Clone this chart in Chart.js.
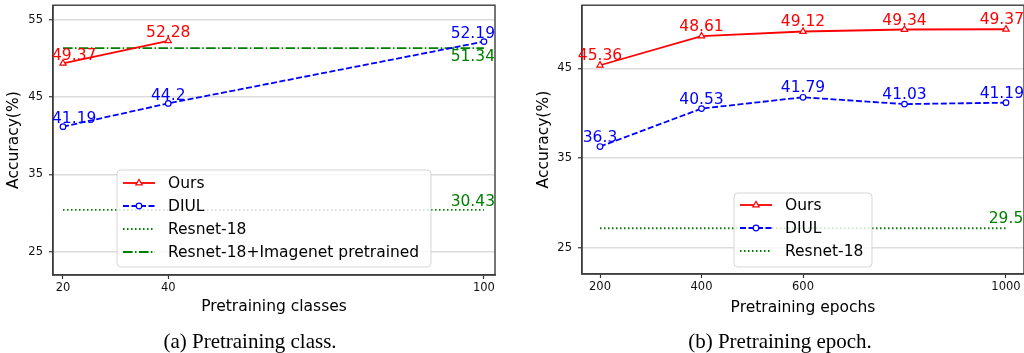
<!DOCTYPE html>
<html><head><meta charset="utf-8">
<script src="https://cdn.jsdelivr.net/npm/chart.js@4/dist/chart.umd.min.js"></script>
<style>
html,body{margin:0;padding:0;width:1024px;height:353px;overflow:hidden;background:#fff;position:relative;}
#c1{position:absolute;left:0;top:0;}
#c2{position:absolute;left:512px;top:0;}
.cap{position:absolute;top:331px;font-family:"Liberation Serif","Times New Roman",serif;font-size:21px;line-height:1;color:#000;white-space:nowrap;transform:translateX(-50%);}
</style></head><body>
<canvas id="c1" width="512" height="330"></canvas>
<canvas id="c2" width="540" height="330"></canvas>
<div class="cap" style="left:250px">(a) Pretraining class.</div>
<div class="cap" style="left:780px">(b) Pretraining epoch.</div>
<script>
// ---- data: chart (a) ----
const xTicksA = [20, 40, 100];
const yTicksA = [25, 35, 45, 55];
const classesOurs = [20, 40];
const oursA = [49.37, 52.28];
const classesDiul = [20, 40, 100];
const diulA = [41.19, 44.2, 52.19];
const baselineSpanA = [20, 100];
const resnetA = [30.43, 30.43];
const resnetLabelsA = [null, '30.43'];
const imagenetA = [51.34, 51.34];
const imagenetLabelsA = [null, '51.34'];

// ---- data: chart (b) ----
const epochs = [200, 400, 600, 800, 1000];
const xTicksB = [200, 400, 600, 1000];
const yTicksB = [25, 35, 45];
const oursB = [45.36, 48.61, 49.12, 49.34, 49.37];
const diulB = [36.3, 40.53, 41.79, 41.03, 41.19];
const baselineSpanB = [200, 1000];
const resnetB = [27.2, 27.2];          // level where the line is drawn in the figure
const resnetLabelsB = [null, '29.5'];  // annotation text in the figure

const FONT = '"DejaVu Sans", sans-serif';
const pts = (xs, ys) => xs.map((x, i) => ({x: x, y: ys[i]}));
const fmt = v => v.map(String);

const framePlugin = {
  id: 'frame',
  afterDatasetsDraw(chart) {
    const a = chart.chartArea, ctx = chart.ctx;
    ctx.save();
    ctx.strokeStyle = '#3c3c3c'; ctx.lineWidth = 1.4;
    ctx.strokeRect(a.left, a.top, a.right - a.left, a.bottom - a.top);
    ctx.restore();
  }
};

const labelPlugin = {
  id: 'vlabels',
  afterDatasetsDraw(chart, args, opts) {
    const ctx = chart.ctx, a = chart.chartArea;
    ctx.save();
    ctx.font = '15.5px ' + FONT;
    ctx.textAlign = 'center'; ctx.textBaseline = 'alphabetic';
    chart.data.datasets.forEach((ds, i) => {
      if (!ds.valueLabels) return;
      const meta = chart.getDatasetMeta(i);
      ds.valueLabels.forEach((t, j) => {
        if (t == null) return;
        const el = meta.data[j];
        const w = ctx.measureText(t).width;
        let x = el.x;
        if (opts.clampLeft && x - w / 2 < a.left - 1) x = a.left - 1 + w / 2;
        if (x + w / 2 > a.right) x = a.right - w / 2;
        ctx.fillStyle = ds.borderColor;
        const y = ds.labelBelow ? el.y + 12.5 : el.y - opts.above;
        ctx.fillText(t, x, y);
      });
    });
    ctx.restore();
  }
};

const boxLegend = {
  id: 'boxLegend',
  afterDraw(chart, args, o) {
    const ctx = chart.ctx;
    ctx.save();
    const [x1, y1, x2, y2] = o.box;
    ctx.beginPath();
    ctx.roundRect(x1, y1, x2 - x1, y2 - y1, 4);
    ctx.fillStyle = 'rgba(255,255,255,0.8)';
    ctx.fill();
    ctx.strokeStyle = 'rgba(204,204,204,0.8)'; ctx.lineWidth = 1;
    ctx.stroke();
    chart.data.datasets.forEach((ds, i) => {
      const y = o.rows[i];
      ctx.strokeStyle = ds.borderColor; ctx.lineWidth = ds.borderWidth;
      ctx.setLineDash(ds.borderDash || []);
      ctx.beginPath(); ctx.moveTo(o.sample[0], y); ctx.lineTo(o.sample[1], y); ctx.stroke();
      ctx.setLineDash([]);
      if (ds.pointRadius > 0) {
        ctx.fillStyle = '#fff'; ctx.lineWidth = 1.2;
        Chart.helpers.drawPoint(ctx, {pointStyle: ds.pointStyle, radius: ds.pointRadius, borderWidth: 1.2, rotation: 0}, (o.sample[0] + o.sample[1]) / 2, y);
      }
      ctx.fillStyle = '#000'; ctx.font = '15.5px ' + FONT;
      ctx.textAlign = 'left'; ctx.textBaseline = 'middle';
      ctx.fillText(ds.label, o.textX, y + 1);
    });
    ctx.restore();
  }
};

function lineDs(label, data, color, dash, style, radius, labels, below) {
  return {
    label: label, data: data, borderColor: color, backgroundColor: color,
    borderWidth: 1.8, borderDash: dash, pointStyle: style, pointRadius: radius,
    pointBackgroundColor: '#fff', pointBorderColor: color, pointBorderWidth: 1.2,
    tension: 0, fill: false, valueLabels: labels, labelBelow: below
  };
}

function makeChart(id, cfg) {
  return new Chart(document.getElementById(id), {
    type: 'line',
    data: {datasets: cfg.datasets},
    plugins: [framePlugin, labelPlugin, boxLegend],
    options: {
      responsive: false, animation: false, events: [],
      layout: {padding: {top: cfg.top, right: cfg.right, left: 0, bottom: 0}},
      plugins: {
        legend: {display: false}, tooltip: {enabled: false},
        vlabels: {above: cfg.above, clampLeft: cfg.clampLeft},
        boxLegend: cfg.legend
      },
      scales: {
        x: {
          type: 'linear', min: cfg.xMin, max: cfg.xMax,
          afterBuildTicks: s => { s.ticks = cfg.xTicks.map(v => ({value: v})); },
          afterFit: s => { s.height = cfg.xH; s.paddingLeft = 0; s.paddingRight = 0; },
          ticks: {font: {family: FONT, size: 11.5}, color: '#111', padding: 2, maxRotation: 0, autoSkip: false, callback: v => String(v)},
          grid: {drawOnChartArea: false, drawTicks: true, tickLength: 4, tickColor: '#333', tickWidth: 1.2},
          border: {display: true, color: '#3c3c3c', width: 1.4},
          title: {display: true, text: cfg.xTitle, color: '#000', font: {family: FONT, size: 15.5}, padding: {top: 0, bottom: cfg.xTitlePad}}
        },
        y: {
          type: 'linear', min: cfg.yMin, max: cfg.yMax,
          afterBuildTicks: s => { s.ticks = cfg.yTicks.map(v => ({value: v})); },
          afterFit: s => { s.width = cfg.yW; s.paddingTop = 0; s.paddingBottom = 0; },
          ticks: {font: {family: FONT, size: 11.5}, color: '#111', padding: 6, autoSkip: false, callback: v => String(v)},
          grid: {color: '#dcdcdc', lineWidth: 1.5, drawTicks: true, tickLength: 4, tickColor: '#333', tickWidth: 1.2},
          border: {display: true, color: '#3c3c3c', width: 1.4},
          title: {display: true, text: 'Accuracy(%)', color: '#000', font: {family: FONT, size: 15.5}, padding: {top: cfg.yTitlePad, bottom: 0}}
        }
      }
    }
  });
}

makeChart('c1', {
  datasets: [
    lineDs('Ours', pts(classesOurs, oursA), '#ff0000', [], 'triangle', 3.6, fmt(oursA), false),
    lineDs('DIUL', pts(classesDiul, diulA), '#0000ff', [6, 2.5], 'circle', 2.8, fmt(diulA), false),
    lineDs('Resnet-18', pts(baselineSpanA, resnetA), '#008000', [1.5, 2.5], 'circle', 0, resnetLabelsA, false),
    lineDs('Resnet-18+Imagenet pretrained', pts(baselineSpanA, imagenetA), '#008000', [9.6, 2.4, 1.5, 2.4], 'circle', 0, imagenetLabelsA, true)
  ],
  top: 5, right: 17, xMin: 18.1, xMax: 102.1, yMin: 22.0, yMax: 56.9,
  xTicks: xTicksA, yTicks: yTicksA, xH: 55, yW: 53,
  xTitle: 'Pretraining classes', xTitlePad: 13.7, yTitlePad: 4.9, above: 3.5, clampLeft: true,
  legend: {box: [117, 170, 431, 267], rows: [183, 206, 229, 252], sample: [123, 155], textX: 168}
});

makeChart('c2', {
  datasets: [
    lineDs('Ours', pts(epochs, oursB), '#ff0000', [], 'triangle', 3.6, fmt(oursB), false),
    lineDs('DIUL', pts(epochs, diulB), '#0000ff', [6, 2.5], 'circle', 2.8, fmt(diulB), false),
    lineDs('Resnet-18', pts(baselineSpanB, resnetB), '#008000', [1.5, 2.5], 'circle', 0, resnetLabelsB, false)
  ],
  top: 3, right: 28, xMin: 164.5, xMax: 1035.5, yMin: 22.1, yMax: 52.05,
  xTicks: xTicksB, yTicks: yTicksB, xH: 56, yW: 70,
  xTitle: 'Pretraining epochs', xTitlePad: 12.7, yTitlePad: 22.2, above: 5, clampLeft: false,
  legend: {box: [222, 193, 360, 267], rows: [205, 228, 251], sample: [228, 260], textX: 273}
});
</script>
</body></html>
